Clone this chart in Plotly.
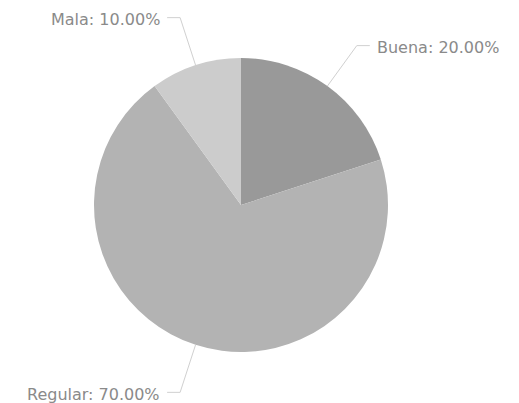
import math
import plotly.graph_objects as go

labels = ["Buena", "Regular", "Mala"]
values = [20, 70, 10]
colors = ["#999999", "#b3b3b3", "#cccccc"]

W, H = 519, 403
CX, CY, R = 241, 205, 147  # pie center/radius in pixels
R_ELBOW = 197
HSEG = 13
GAP = 5

def px(x):
    return x / W

def py(y):
    return 1 - y / H

fig = go.Figure()
fig.add_trace(go.Pie(
    labels=labels, values=values, sort=False, direction="clockwise", rotation=0,
    marker=dict(colors=colors, line=dict(width=0)),
    textinfo="none", hoverinfo="label+percent", showlegend=False,
    domain=dict(x=[px(CX - R), px(CX + R)], y=[py(CY + R), py(CY - R)]),
))

total = sum(values)
cum = 0
shapes, annotations = [], []
for lab, v in zip(labels, values):
    mid = (cum + v / 2) / total * 2 * math.pi
    cum += v
    sx, sy = CX + R * math.sin(mid), CY - R * math.cos(mid)
    ex, ey = CX + R_ELBOW * math.sin(mid), CY - R_ELBOW * math.cos(mid)
    right = math.sin(mid) >= 0
    hx = ex + HSEG if right else ex - HSEG
    line = dict(color="#d0d0d0", width=1)
    shapes.append(dict(type="line", xref="paper", yref="paper",
                       x0=px(sx), y0=py(sy), x1=px(ex), y1=py(ey), line=line))
    shapes.append(dict(type="line", xref="paper", yref="paper",
                       x0=px(ex), y0=py(ey), x1=px(hx), y1=py(ey), line=line))
    tx = hx + GAP if right else hx - GAP
    annotations.append(dict(
        x=px(tx), y=py(ey + 2), xref="paper", yref="paper", showarrow=False,
        xanchor="left" if right else "right", yanchor="middle",
        text=f"{lab}: {v / total * 100:.2f}%",
        font=dict(family="DejaVu Sans, Verdana, sans-serif", size=16, color="#8a8a8a"),
    ))

fig.update_layout(
    width=W, height=H, margin=dict(l=0, r=0, t=0, b=0),
    paper_bgcolor="white", plot_bgcolor="white",
    shapes=shapes, annotations=annotations,
)
fig.write_html("out.html", config={"displayModeBar": False})

with open("out.html", encoding="utf-8") as f:
    html = f.read()
html = html.replace("<head>", "<head><style>html,body{margin:0;padding:0;}</style>", 1)
with open("out.html", "w", encoding="utf-8") as f:
    f.write(html)
